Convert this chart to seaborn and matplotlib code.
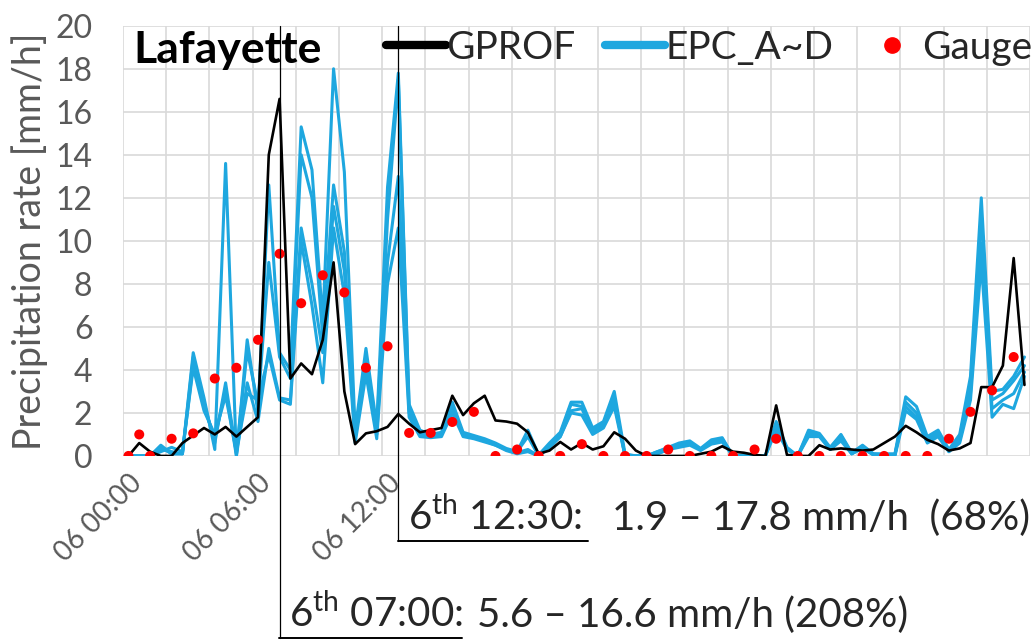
import numpy as np
import pandas as pd
import matplotlib.pyplot as plt
import seaborn as sns
from matplotlib.lines import Line2D

sns.set_theme(style="whitegrid")
plt.rcParams["font.family"] = ["Lato", "DejaVu Sans"]
plt.rcParams["mathtext.fontset"] = "custom"
plt.rcParams["mathtext.rm"] = "Lato"

# half-hourly values, 06 00:00 .. 07 17:30
gprof = [0, 0.6, 0.2, 0, 0, 0.6, 0.95, 1.3, 1.0, 1.35, 0.9, 1.35, 1.8, 14.0, 16.6,
         3.6, 4.3, 3.8, 5.4, 9.0, 3.0, 0.55, 1.05, 1.15, 1.35, 1.95, 1.5, 1.1, 1.2, 1.3,
         2.8, 1.9, 2.45, 2.8, 1.65, 1.6, 1.5, 1.1, 0.1, 0.25, 0.65, 0.3, 0.6, 0.3, 0.45,
         1.1, 0.8, 0.25, 0, 0, 0, 0, 0, 0.1, 0.2, 0.45, 0.2, 0.15, 0.05, 0, 2.35, 0.05,
         0, 0, 0.5, 0.3, 0.35, 0.3, 0.25, 0.3, 0.6, 0.9, 1.4, 1.1, 0.75, 0.55, 0.25, 0.35,
         0.6, 3.2, 3.2, 4.2, 9.2, 3.3]

epc_a = [0, 0, 0, 0.5, 0.1, 0.1, 4.8, 2.7, 0.3, 13.6, 0, 5.4, 2.0, 12.6, 4.8, 4.0, 15.3,
         13.3, 6.2, 18.0, 13.2, 1.2, 5.0, 1.4, 12.5, 17.8, 2.4, 1.2, 1.0, 1.1, 2.5, 1.1,
         0.95, 0.8, 0.6, 0.35, 0.2, 1.2, 0.05, 0.6, 1.1, 2.5, 2.5, 1.3, 1.6, 3.0, 0.1, 0,
         0, 0.2, 0.4, 0.6, 0.7, 0.35, 0.75, 0.85, 0, 0, 0, 0, 1.6, 0.4, 0, 1.2, 1.05, 0.4,
         1.0, 0.15, 0.5, 0.1, 0.1, 0.1, 2.75, 2.3, 0.9, 1.2, 0.3, 1.0, 3.7, 12.0, 3.0, 3.1,
         3.7, 4.6]
epc_b = [0, 0, 0, 0.4, 0.1, 0.1, 4.6, 2.5, 0.6, 3.4, 0.1, 4.9, 2.4, 9.0, 4.6, 3.6, 14.0,
         12.0, 5.5, 12.6, 9.5, 1.0, 4.5, 1.2, 11.0, 17.5, 2.2, 1.1, 0.95, 1.0, 2.3, 1.0,
         0.9, 0.75, 0.55, 0.3, 0.2, 0.9, 0, 0.5, 1.0, 2.4, 2.3, 1.2, 1.5, 2.7, 0, 0, 0,
         0.2, 0.35, 0.5, 0.6, 0.3, 0.7, 0.8, 0, 0, 0, 0, 1.5, 0.35, 0, 1.1, 1.0, 0.35,
         0.95, 0.1, 0.45, 0.1, 0.05, 0.05, 2.5, 2.0, 0.8, 1.1, 0.25, 0.9, 3.3, 11.2, 2.6,
         2.9, 3.5, 4.2]
epc_c = [0, 0, 0, 0.3, 0.2, 0.1, 4.3, 2.3, 0.8, 3.1, 0, 3.4, 1.6, 5.0, 2.7, 2.6, 10.6,
         8.0, 4.8, 11.6, 8.6, 0.8, 4.2, 1.0, 9.0, 13.0, 2.0, 1.0, 0.9, 1.0, 2.1, 1.0,
         0.85, 0.7, 0.5, 0.3, 0.15, 0.3, 0, 0.4, 0.9, 2.1, 2.2, 1.1, 1.4, 2.5, 0, 0, 0,
         0.1, 0.3, 0.5, 0.55, 0.3, 0.6, 0.7, 0, 0, 0, 0, 1.4, 0.3, 0, 1.0, 0.95, 0.3,
         0.8, 0.1, 0.4, 0.05, 0.05, 0.05, 2.3, 1.8, 0.7, 1.0, 0.2, 0.7, 2.9, 9.9, 2.2,
         2.6, 2.9, 3.9]
epc_d = [0, 0, 0, 0.2, 0.4, 0.2, 4.1, 2.1, 1.0, 2.8, 0.2, 2.9, 2.6, 4.7, 2.6, 2.4, 10.0,
         7.0, 3.4, 10.6, 7.5, 0.6, 3.8, 0.8, 8.0, 10.6, 1.8, 0.9, 0.85, 0.9, 2.0, 0.9,
         0.8, 0.65, 0.5, 0.25, 0.1, 0.2, 0, 0.4, 0.9, 2.0, 1.9, 1.0, 1.3, 2.3, 0, 0, 0,
         0.1, 0.3, 0.4, 0.5, 0.25, 0.55, 0.65, 0, 0, 0, 0, 1.2, 0.3, 0, 0.9, 0.9, 0.3,
         0.7, 0.1, 0.35, 0.05, 0, 0, 2.1, 1.7, 0.6, 0.9, 0.2, 0.6, 2.6, 9.0, 1.8, 2.4,
         2.2, 3.7]

nan = np.nan
gauge = [0, 1.0, 0, nan, 0.8, nan, 1.05, nan, 3.6, nan, 4.1, nan, 5.4, nan, 9.4, nan,
         7.1, nan, 8.4, nan, 7.6, nan, 4.1, nan, 5.1, nan, 1.07, nan, 1.07, nan, 1.58,
         nan, 2.05, nan, 0, nan, 0.3, nan, 0, nan, 0, nan, 0.55, nan, 0, nan, 0, nan, 0,
         nan, 0.3, nan, 0, nan, 0, nan, 0, nan, 0.3, nan, 0.8, nan, 0, nan, 0, nan, 0,
         nan, 0, nan, 0, nan, 0, nan, 0, nan, 0.8, nan, 2.05, nan, 3.05, nan, 4.6, nan]

tick_pos = [0, 12, 24]
tick_labels = ["06 00:00", "06 06:00", "06 12:00"]

idx = np.arange(len(gprof))
df = pd.DataFrame({"idx": idx, "gprof": gprof, "gauge": gauge})
epc = pd.DataFrame({
    "idx": np.tile(idx, 4),
    "rate": np.concatenate([epc_a, epc_b, epc_c, epc_d]),
    "member": np.repeat(["A", "B", "C", "D"], len(idx)),
})

blue = "#1EA7DF"
grey = "#595959"

fig = plt.figure(figsize=(10.34, 6.44), dpi=100)
ax = fig.add_axes([0.119, 0.292, 0.877, 0.668])

sns.lineplot(data=epc, x="idx", y="rate", units="member", estimator=None,
             color=blue, lw=2.2, ax=ax, legend=False, zorder=3)
sns.lineplot(data=df, x="idx", y="gprof", color="black", lw=1.9, ax=ax, zorder=4)
sns.scatterplot(data=df.dropna(), x="idx", y="gauge", color="#FF0000", s=52,
                edgecolor="none", ax=ax, zorder=5)

ax.set_xlim(-0.5, len(idx) - 0.5)
ax.set_ylim(0, 20)
ax.set_yticks(np.arange(0, 21, 2))
ax.set_xticks(tick_pos)
ax.set_xticklabels(tick_labels, rotation=45, ha="right", rotation_mode="anchor")
ax.set_xticks(np.arange(-0.5, len(idx), 4), minor=True)
ax.grid(False)
ax.grid(axis="y", which="major", color="#D9D9D9", lw=1.2)
ax.grid(axis="x", which="minor", color="#D9D9D9", lw=1.2)
for s in ax.spines.values():
    s.set_visible(False)
ax.tick_params(axis="both", which="both", length=0, colors=grey)
ax.tick_params(axis="y", labelsize=23, pad=22)
ax.tick_params(axis="x", labelsize=20, pad=10)
ax.set_xlabel("")
ax.set_ylabel("Precipitation rate [mm/h]", fontsize=27, color=grey)
ax.yaxis.set_label_coords(-0.083, 0.5)

ax.text(0.011, 0.914, "Lafayette", transform=ax.transAxes, fontsize=32,
        fontweight="bold", color="black", va="baseline", ha="left")

handles = [Line2D([], [], color="black", lw=6),
           Line2D([], [], color=blue, lw=6),
           Line2D([], [], color="#FF0000", lw=0, marker="o", markersize=11)]
ax.legend(handles, ["GPROF", "EPC_A~D", "Gauge"], ncol=3, loc="center right",
          bbox_to_anchor=(1.003, 0.949), frameon=False, fontsize=28,
          borderaxespad=0, borderpad=0, handlelength=1.55, handletextpad=0.0,
          columnspacing=0.75)

# event markers
for pos, yb in [(14, -0.423), (25, -0.198)]:
    ax.plot([pos, pos], [1.0, yb], transform=ax.get_xaxis_transform(),
            color="black", lw=0.9, clip_on=False, zorder=6)

fs = 29
fig.text(408 / 1034, 1 - 530 / 644, r"6$^{\mathrm{th}}$ 12:30:", fontsize=fs, ha="left", va="baseline")
fig.text(612 / 1034, 1 - 530 / 644, "1.9 – 17.8 mm/h  (68%)", fontsize=fs, ha="left", va="baseline")
fig.add_artist(Line2D([398 / 1034, 588 / 1034], [1 - 541 / 644] * 2, color="black", lw=1.4))

fig.text(289 / 1034, 1 - 627 / 644, r"6$^{\mathrm{th}}$ 07:00:", fontsize=fs, ha="left", va="baseline")
fig.text(477 / 1034, 1 - 627 / 644, "5.6 – 16.6 mm/h (208%)", fontsize=fs, ha="left", va="baseline")
fig.add_artist(Line2D([279 / 1034, 462 / 1034], [1 - 638 / 644] * 2, color="black", lw=1.4))

fig.savefig("out.png", dpi=100)
